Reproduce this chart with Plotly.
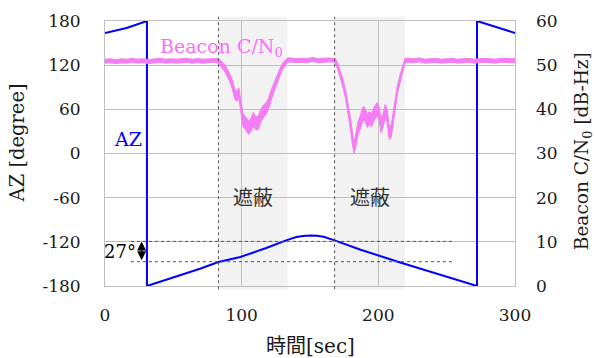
import plotly.graph_objects as go

# --- Azimuth of the satellite (deg, wrapped at ±180) ---
az_t = [0, 15.8, 30.7, 30.7, 69.5, 83, 99, 118, 133, 140, 145, 150, 155, 160,
        168, 187, 216, 245, 272.2, 272.2, 300]
az_deg = [163.7, 170.5, 180, -180, -156.6, -147.5, -140.6, -128.4, -117.6, -113.4,
          -112.0, -111.3, -111.8, -113.2, -118.0, -130.7, -148.0, -164.7, -180, 180, 163.7]

# --- Beacon C/N0 (dB-Hz): mean level and half-width of the noise band ---
cn0_t = [0, 4, 8, 12, 16, 20, 24, 28, 32, 36, 40, 44, 48, 52, 56, 60, 64, 68, 72, 76, 80,
         82.9, 85, 88, 91, 93, 95, 96.5, 98, 99.5, 101, 103, 105, 107, 108.5, 110, 112,
         114, 116, 118, 120, 122, 124, 126, 128, 130, 132, 133.5,
         136, 140, 144, 148, 152, 156, 160, 164, 167,
         168.3, 170, 172, 174, 176, 178, 179.5, 181, 182.3, 183.5, 185, 187, 189, 190.5,
         192, 193.5, 195, 197, 199, 200.5, 202, 203.5, 205, 206.5, 208, 209.5, 211,
         212.5, 214, 216, 218, 219.5,
         222, 226, 230, 234, 238, 242, 246, 250, 254, 258, 262, 266, 270, 274, 278,
         282, 286, 290, 294, 298, 300]
cn0_mid = [50.9, 51.0, 50.8, 51.0, 50.9, 51.1, 50.9, 51.0, 50.8, 51.0, 51.1, 50.9, 51.0,
           50.9, 51.0, 51.1, 50.9, 51.0, 50.9, 51.0, 51.1,
           51.0, 50.3, 49.2, 47.3, 45.8, 43.4, 43.0, 43.6, 41.0, 37.5, 36.8, 35.8, 36.6,
           37.8, 37.0, 36.8, 38.6, 39.6, 40.2, 41.6, 43.6, 45.3, 46.8, 48.4, 49.8, 50.6, 51.1,
           51.2, 51.0, 51.1, 51.0, 51.3, 51.0, 51.1, 51.2, 51.1,
           51.0, 50.0, 48.2, 46.0, 43.5, 40.2, 37.0, 33.5, 31.2, 33.0, 35.5, 37.3, 39.2,
           38.6, 37.4, 38.0, 37.5, 39.0, 40.0, 39.2, 36.2, 37.5, 39.6, 38.5, 34.5, 35.2,
           38.6, 42.0, 44.5, 47.0, 49.3, 51.0,
           51.1, 51.0, 51.2, 50.9, 51.0, 51.1, 50.9, 51.0, 51.1, 50.9, 51.0, 51.1, 50.9,
           51.0, 51.1, 51.0, 50.9, 51.1, 51.0, 50.9, 51.0]
cn0_spread = ([0.45] * 21 +
              [0.55, 0.7, 0.8, 0.9, 1.0, 1.1, 1.2, 1.2, 1.3, 1.5, 1.5, 1.5, 1.5, 1.5, 1.5,
               1.5, 1.5, 1.4, 1.3, 1.2, 1.1, 1.0, 0.9, 0.8, 0.7, 0.6, 0.55] +
              [0.45] * 9 +
              [0.55, 0.7, 0.8, 0.9, 1.0, 1.2, 1.3, 1.4, 1.2, 1.4, 1.5, 1.5, 1.5, 1.5, 1.5,
               1.5, 1.5, 1.5, 1.5, 1.5, 1.5, 1.5, 1.5, 1.5, 1.4, 1.4, 1.3, 1.1, 1.0, 0.9,
               0.8, 0.55] +
              [0.45] * 21)

# --- Blocked intervals (sec) ---
block_start = [83, 168]
block_end = [133.5, 219.5]
block_label = ["遮蔽", "遮蔽"]

# --- Elevation-change marker levels (deg) ---
marker_levels = [-119.4, -147.0]
marker_text = "27°"

az_ticks = [180, 120, 60, 0, -60, -120, -180]
cn0_ticks = [60, 50, 40, 30, 20, 10, 0]
time_ticks = [0, 100, 200, 300]

SERIF = "DejaVu Serif, Noto Sans CJK JP"
BLUE = "#0000FF"
PINK = "#F47CF4"
GRID = "#BFBFBF"
TEXT = "#1a1a1a"

cn0_hi = [m + s for m, s in zip(cn0_mid, cn0_spread)]
cn0_lo = [m - s for m, s in zip(cn0_mid, cn0_spread)]

fig = go.Figure()

fig.add_trace(go.Scatter(x=cn0_t, y=cn0_lo, yaxis="y2", mode="lines",
                         line=dict(color=PINK, width=1), hoverinfo="skip",
                         showlegend=False))
fig.add_trace(go.Scatter(x=cn0_t, y=cn0_hi, yaxis="y2", mode="lines",
                         line=dict(color=PINK, width=1), fill="tonexty",
                         fillcolor=PINK, showlegend=False, name="Beacon C/N0"))
fig.add_trace(go.Scatter(x=az_t, y=az_deg, mode="lines",
                         line=dict(color=BLUE, width=2), showlegend=False, name="AZ"))

shapes = []
for s, e in zip(block_start, block_end):
    shapes.append(dict(type="rect", xref="x", yref="paper", x0=s, x1=e, y0=-0.012, y1=1.016,
                       fillcolor="#F2F2F2", line=dict(width=0), layer="below"))
    shapes.append(dict(type="line", xref="x", yref="paper", x0=s, x1=s, y0=-0.012, y1=1.016,
                       line=dict(color="#555555", width=1, dash="dot"), layer="above"))
for lv in marker_levels:
    shapes.append(dict(type="line", xref="x", yref="y", x0=19, x1=254.5, y0=lv, y1=lv,
                       line=dict(color="#555555", width=1, dash="dot"), layer="above"))

annotations = []
for s, e, lab in zip(block_start, block_end, block_label):
    annotations.append(dict(x=(s + e) / 2, y=-60, xref="x", yref="y", text=lab,
                            showarrow=False, font=dict(family=SERIF, size=20, color="#333333")))
annotations += [
    dict(x=26.8, y=marker_levels[0], ax=26.8, ay=marker_levels[1], xref="x", yref="y",
         axref="x", ayref="y", text="", showarrow=True, arrowside="end+start",
         arrowhead=2, arrowsize=1.2, arrowwidth=1.5, arrowcolor="#000000",
         standoff=0, startstandoff=0),
    dict(x=11, y=-133.5, xref="x", yref="y", text=marker_text, showarrow=False,
         font=dict(family=SERIF, size=18, color="#000000")),
    dict(x=16.5, y=20, xref="x", yref="y", text="AZ", showarrow=False,
         font=dict(family=SERIF, size=19, color=BLUE)),
    dict(x=38.5, y=54.0, xref="x", yref="y2", text="Beacon C/N<sub>0</sub>",
         xanchor="left", yanchor="middle", showarrow=False,
         font=dict(family=SERIF, size=19, color="#FF6BFF")),
    dict(x=-0.2134, y=0.54, xref="paper", yref="paper", text="AZ [degree]",
         xanchor="center", yanchor="middle",
         textangle=-90, showarrow=False, font=dict(family=SERIF, size=19.5, color=TEXT)),
    dict(x=1.166, y=0.509, xref="paper", yref="paper", text="Beacon C/N<sub>0</sub> [dB-Hz]",
         xanchor="center", yanchor="middle",
         textangle=-90, showarrow=False, font=dict(family=SERIF, size=18.5, color=TEXT)),
    dict(x=0.5, y=-0.226, xref="paper", yref="paper", text="時間[sec]",
         xanchor="center", yanchor="middle",
         showarrow=False, font=dict(family=SERIF, size=20, color=TEXT)),
]

fig.update_layout(
    width=595, height=358,
    margin=dict(l=105, r=80, t=21, b=72),
    paper_bgcolor="white", plot_bgcolor="white",
    font=dict(family=SERIF, size=17, color=TEXT),
    shapes=shapes, annotations=annotations,
    xaxis=dict(range=[0, 300], tickvals=time_ticks, ticks="", ticklabelstandoff=14,
               showgrid=True, gridcolor=GRID, gridwidth=1, zeroline=False,
               showline=True, linecolor=GRID, mirror=True),
    yaxis=dict(range=[-180, 180], tickvals=az_ticks, ticktext=[str(v) for v in az_ticks],
               ticks="", ticklabelstandoff=20, showgrid=True, gridcolor=GRID,
               gridwidth=1, zeroline=False, showline=True, linecolor=GRID, mirror=True),
    yaxis2=dict(range=[0, 60], tickvals=cn0_ticks, overlaying="y", side="right",
                ticks="", ticklabelstandoff=20, showgrid=False, zeroline=False,
                showline=False),
)

fig.write_html("out.html")
